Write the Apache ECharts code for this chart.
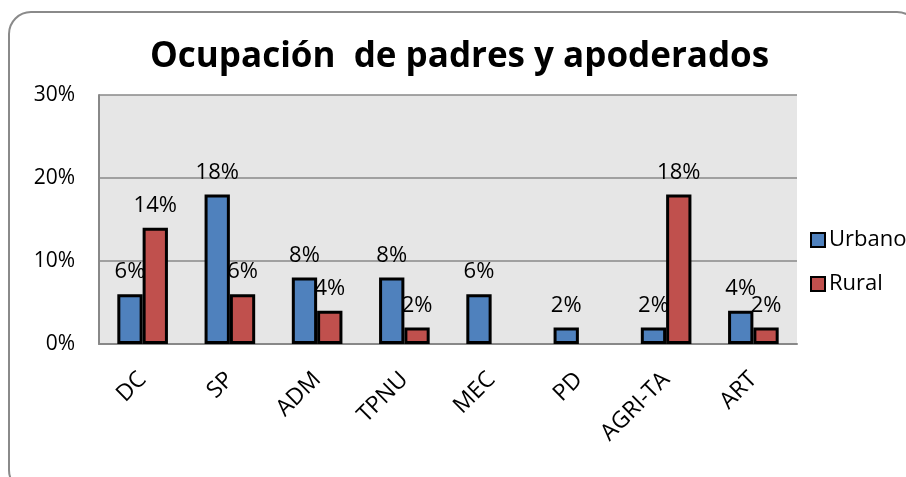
<!DOCTYPE html>
<html>
<head>
<meta charset="utf-8">
<script src="https://cdn.jsdelivr.net/npm/echarts@6/dist/echarts.min.js"></script>
<style>
  html,body{margin:0;padding:0;background:#fff;}
  #chart_wrap{width:906px;height:477px;}
</style>
</head>
<body>
<div id="chart_wrap"></div>
<script>
var categories=['DC','SP','ADM','TPNU','MEC','PD','AGRI-TA','ART'];
var urbano=[6,18,8,8,6,2,2,4];
var rural=[14,6,4,2,null,null,18,2];
var yTicks=[0,10,20,30];

var fontFam='"Open Sans", "Noto Sans", sans-serif';
var chart=echarts.init(document.getElementById('chart_wrap'));

var labelOpt={
  show:true,
  position:'top',
  distance:11,
  color:'#000',
  fontSize:22,
  fontFamily:fontFam,
  formatter:function(p){ return p.value+'%'; }
};

var option={
  animation:false,
  backgroundColor:'#fff',
  graphic:[{
    type:'rect',
    shape:{x:9,y:12,width:910,height:480,r:22},
    style:{fill:'none',stroke:'#8a8a8a',lineWidth:2},
    z:-10
  }],
  title:{
    text:'Ocupación  de padres y apoderados',
    left:145,
    top:35,
    textStyle:{fontSize:35,fontWeight:'bold',color:'#000',fontFamily:fontFam}
  },
  legend:{
    orient:'vertical',
    left:805,
    top:224,
    itemWidth:14,
    itemHeight:14,
    itemGap:22,
    icon:'rect',
    textStyle:{fontSize:22,color:'#000',fontFamily:fontFam,padding:[0,0,0,-1]},
    data:['Urbano','Rural']
  },
  grid:{left:99,right:109,top:95,bottom:133,show:true,backgroundColor:'#e6e6e6',borderWidth:0},
  xAxis:{
    type:'category',
    data:categories,
    axisLine:{lineStyle:{color:'#888',width:2}},
    axisTick:{show:false},
    axisLabel:{rotate:45,fontSize:23,color:'#000',fontFamily:fontFam,margin:32}
  },
  yAxis:{
    type:'value',
    min:0,max:30,interval:10,
    axisLine:{show:true,lineStyle:{color:'#888',width:2}},
    axisTick:{show:false},
    splitLine:{lineStyle:{color:'#888',width:1.5}},
    axisLabel:{
      fontSize:21,color:'#000',fontFamily:fontFam,margin:24,
      formatter:function(v){ return yTicks.indexOf(v)>=0 ? v+'%' : ''; }
    }
  },
  series:[
    {
      name:'Urbano',type:'bar',data:urbano,
      barGap:'0%',barCategoryGap:'42%',
      itemStyle:{color:'#4f81bd',borderColor:'#000',borderWidth:3},
      label:labelOpt
    },
    {
      name:'Rural',type:'bar',data:rural,
      itemStyle:{color:'#c0504d',borderColor:'#000',borderWidth:3},
      label:labelOpt
    }
  ]
};

chart.setOption(option);
</script>
</body>
</html>
